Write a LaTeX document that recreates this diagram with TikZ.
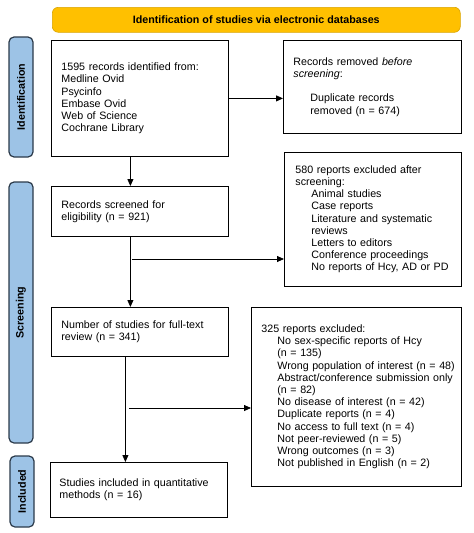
\documentclass[tikz,border=0pt]{standalone}
\usepackage{fontspec}
\setmainfont{Liberation Sans}
\usetikzlibrary{arrows.meta}
\definecolor{gold}{HTML}{FFC000}
\definecolor{golddark}{HTML}{D9A400}
\definecolor{sideblue}{HTML}{9DC3E6}
\definecolor{sideedge}{HTML}{2B3A4A}
\newcommand{\ind}{\hspace*{16pt}}
\newcommand{\indb}{\hspace*{18pt}}
\begin{document}
\begin{tikzpicture}[x=1pt,y=-1pt,
  txt/.style={font=\fontsize{10.7}{12.2}\selectfont},
  box/.style={txt, draw=black, line width=0.8pt, anchor=north west, inner ysep=0pt, align=left},
  banner/.style={draw=golddark, fill=gold, line width=0.6pt, rounded corners=6pt, anchor=north west,
    minimum width=408pt, minimum height=25pt, inner sep=0pt, font=\fontsize{10.7}{12.2}\selectfont\bfseries},
  side/.style={draw=sideedge, fill=sideblue, line width=1.2pt, rounded corners=5pt, rotate=90,
    minimum height=24pt, inner sep=0pt, font=\fontsize{10.7}{12.2}\selectfont\bfseries},
  arr/.style={line width=0.8pt, -{Triangle[length=7pt,width=6pt]}}]
\useasboundingbox (0,0) rectangle (474,533);

\node[banner] (ban) at (52,7) {Identification of studies via electronic databases};

\node[side, minimum width=120pt] (sid) at (21,97) {Identification};
\node[side, minimum width=261pt] (sscr) at (21,312.5) {Screening};
\node[side, minimum width=71pt] (sinc) at (22,491.5) {Included};

\node[box, inner xsep=10pt, text width=157pt, minimum height=116pt] (ident) at (51,40)
  {1595 records identified from:\\Medline Ovid\\Psycinfo\\Embase Ovid\\Web of Science\\Cochrane Library};
\node[box, inner xsep=10pt, text width=158pt, minimum height=93pt] (removed) at (283,40)
  {Records removed \textit{before}\\\textit{screening}:\\[12.2pt]\hspace*{17pt}Duplicate records\\\hspace*{17pt}removed (n = 674)};
\node[box, inner xsep=10pt, text width=157pt, minimum height=50pt] (screen) at (51,186)
  {Records screened for\\eligibility (n = 921)};
\node[box, inner xsep=11pt, text width=155pt, minimum height=134pt] (excla) at (284,152)
  {580 reports excluded after\\screening:\\\ind Animal studies\\\ind Case reports\\\ind Literature and systematic\\\ind reviews\\\ind Letters to editors\\\ind Conference proceedings\\\ind \mbox{No reports of Hcy, AD or PD}};
\node[box, inner xsep=8pt, text width=194pt, minimum height=179pt] (exclb) at (251,307)
  {\hspace*{2pt}325 reports excluded:\\\indb \mbox{No sex-specific reports of Hcy}\\\indb (n = 135)\\\indb \mbox{Wrong population of interest (n = 48)}\\\indb \mbox{Abstract/conference submission only}\\\indb (n = 82)\\\indb No disease of interest (n = 42)\\\indb Duplicate reports (n = 4)\\\indb No access to full text (n = 4)\\\indb Not peer-reviewed (n = 5)\\\indb Wrong outcomes (n = 3)\\\indb \mbox{Not published in English (n = 2)}};
\node[box, inner xsep=10pt, text width=157pt, minimum height=49pt] (full) at (51,307)
  {Number of studies for full-text\\review (n = 341)};
\node[box, inner xsep=9pt, text width=159pt, minimum height=55pt] (final) at (50,462)
  {Studies included in quantitative\\methods (n = 16)};

\draw[arr] (ident.east) -- (ident.east -| removed.west);
\draw[arr] ([xshift=-9.5pt]ident.south) -- ([xshift=-9.5pt]screen.north);
\draw[arr] ([xshift=-9.5pt]screen.south) -- ([xshift=-9.5pt]full.north);
\coordinate (ba) at (132,259);
\draw[arr] (ba) -- (ba -| excla.west);
\draw[arr] ([xshift=-14.5pt]full.south) -- ([xshift=-13.5pt]final.north);
\coordinate (bb) at (129,408);
\draw[arr] (bb) -- (bb -| exclb.west);
\end{tikzpicture}
\end{document}
